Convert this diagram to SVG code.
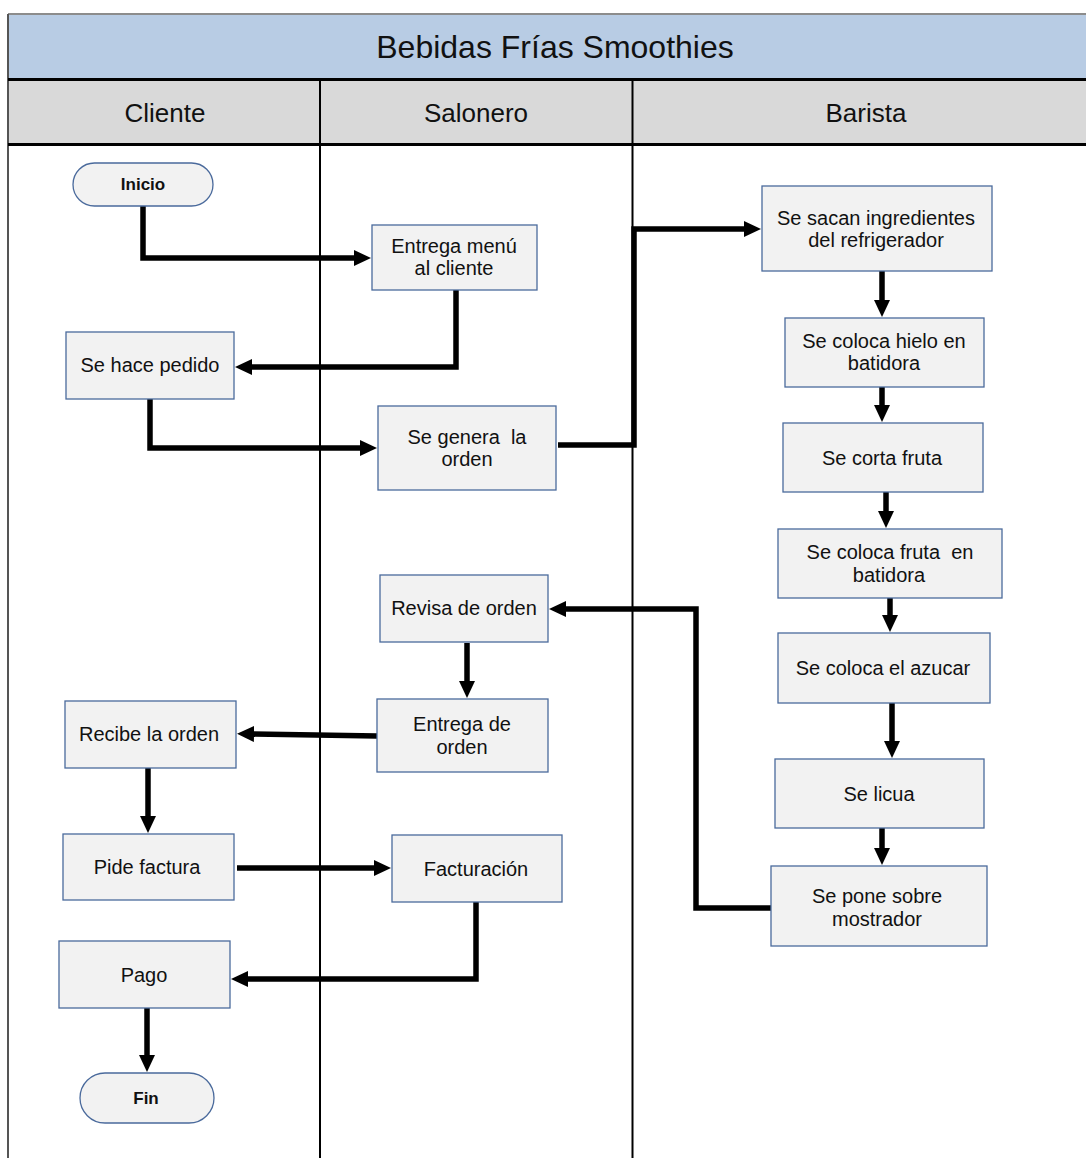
<svg xmlns="http://www.w3.org/2000/svg" width="1086" height="1158" viewBox="0 0 1086 1158">
  <style>
    .box { fill: #F2F2F2; stroke: #4A6A9C; stroke-width: 1.3; }
    .lbl { font-family: "Liberation Sans", Arial, sans-serif; font-size: 20px; fill: #111; text-anchor: middle; dominant-baseline: central; }
    .term { font-family: "Liberation Sans", Arial, sans-serif; font-size: 17px; font-weight: bold; fill: #111; text-anchor: middle; dominant-baseline: central; }
    .hdr { font-family: "Liberation Sans", Arial, sans-serif; font-size: 26px; fill: #111; text-anchor: middle; dominant-baseline: central; }
    .ttl { font-family: "Liberation Sans", Arial, sans-serif; font-size: 32px; fill: #111; text-anchor: middle; dominant-baseline: central; }
    .flow { fill: none; stroke: #000; stroke-width: 5.5; stroke-linejoin: miter; marker-end: url(#arrow); }
    .lane { stroke: #000; stroke-width: 2; }
    .sep { stroke: #000; stroke-width: 3; }
  </style>
  <defs>
    <marker id="arrow" markerUnits="userSpaceOnUse" markerWidth="18" markerHeight="16" refX="2" refY="8" orient="auto">
      <path d="M0,0 L17,8 L0,16 Z" fill="#000"/>
    </marker>
  </defs>

  <rect width="1086" height="1158" fill="#fff"/>

  <!-- Swimlane frame -->
  <g id="frame">
    <rect x="9" y="15" width="1077" height="64" fill="#B8CCE4"/>
    <rect x="9" y="80" width="1077" height="64" fill="#D9D9D9"/>
    <line x1="8" y1="14" x2="1086" y2="14" stroke="#666" stroke-width="1.5"/>
    <line x1="8" y1="14" x2="8" y2="1158" stroke="#555" stroke-width="2"/>
    <line class="sep" x1="8" y1="79.5" x2="1086" y2="79.5"/>
    <line class="sep" x1="8" y1="144.5" x2="1086" y2="144.5"/>
    <line class="lane" x1="320" y1="79" x2="320" y2="1158"/>
    <line class="lane" x1="632.5" y1="79" x2="632.5" y2="1158"/>
    <text class="ttl" x="555" y="47">Bebidas Frías Smoothies</text>
    <text class="hdr" x="165" y="113">Cliente</text>
    <text class="hdr" x="476" y="113">Salonero</text>
    <text class="hdr" x="866" y="113">Barista</text>
  </g>

  <!-- Connectors -->
  <g id="connectors">
    <path class="flow" d="M143,206 V258 H356"/>
    <path class="flow" d="M456,290 V367 H250"/>
    <path class="flow" d="M150,399 V448 H362"/>
    <path class="flow" d="M558,445 H634 V229 H746"/>
    <path class="flow" d="M882,271 V302"/>
    <path class="flow" d="M882,387 V407"/>
    <path class="flow" d="M886,492 V513"/>
    <path class="flow" d="M890,598 V617"/>
    <path class="flow" d="M892,703 V743"/>
    <path class="flow" d="M882,828 V850"/>
    <path class="flow" d="M778,908 H696 V609 H564"/>
    <path class="flow" d="M467,643 V683"/>
    <path class="flow" d="M377,736 L252,734"/>
    <path class="flow" d="M148,768 V818"/>
    <path class="flow" d="M237,868 H376"/>
    <path class="flow" d="M476,902 V979 H246"/>
    <path class="flow" d="M147,1008 V1057"/>
  </g>

  <!-- Cliente lane -->
  <g id="inicio">
    <rect class="box" x="73" y="163" width="140" height="43" rx="21.5"/>
    <text class="term" x="143" y="184.5">Inicio</text>
  </g>
  <g id="hace-pedido">
    <rect class="box" x="66" y="332" width="168" height="67"/>
    <text class="lbl" x="150" y="365">Se hace pedido</text>
  </g>
  <g id="recibe-orden">
    <rect class="box" x="65" y="701" width="171" height="67"/>
    <text class="lbl" x="149" y="734">Recibe la orden</text>
  </g>
  <g id="pide-factura">
    <rect class="box" x="63" y="834" width="171" height="66"/>
    <text class="lbl" x="147" y="867">Pide factura</text>
  </g>
  <g id="pago">
    <rect class="box" x="59" y="941" width="171" height="67"/>
    <text class="lbl" x="144" y="975">Pago</text>
  </g>
  <g id="fin">
    <rect class="box" x="80" y="1073" width="134" height="50" rx="25"/>
    <text class="term" x="146" y="1098">Fin</text>
  </g>

  <!-- Salonero lane -->
  <g id="entrega-menu">
    <rect class="box" x="372" y="225" width="165" height="65"/>
    <text class="lbl" x="454" y="246">Entrega menú</text>
    <text class="lbl" x="454" y="268">al cliente</text>
  </g>
  <g id="genera-orden">
    <rect class="box" x="378" y="406" width="178" height="84"/>
    <text class="lbl" x="467" y="437" xml:space="preserve">Se genera  la</text>
    <text class="lbl" x="467" y="459">orden</text>
  </g>
  <g id="revisa-orden">
    <rect class="box" x="380" y="575" width="168" height="67"/>
    <text class="lbl" x="464" y="608">Revisa de orden</text>
  </g>
  <g id="entrega-orden">
    <rect class="box" x="377" y="699" width="171" height="73"/>
    <text class="lbl" x="462" y="724">Entrega de</text>
    <text class="lbl" x="462" y="747">orden</text>
  </g>
  <g id="facturacion">
    <rect class="box" x="392" y="835" width="170" height="67"/>
    <text class="lbl" x="476" y="869">Facturación</text>
  </g>

  <!-- Barista lane -->
  <g id="sacan-ingredientes">
    <rect class="box" x="762" y="186" width="230" height="85"/>
    <text class="lbl" x="876" y="218">Se sacan ingredientes</text>
    <text class="lbl" x="876" y="240">del refrigerador</text>
  </g>
  <g id="hielo">
    <rect class="box" x="785" y="318" width="199" height="69"/>
    <text class="lbl" x="884" y="341">Se coloca hielo en</text>
    <text class="lbl" x="884" y="363">batidora</text>
  </g>
  <g id="corta-fruta">
    <rect class="box" x="783" y="423" width="200" height="69"/>
    <text class="lbl" x="882" y="458">Se corta fruta</text>
  </g>
  <g id="fruta-batidora">
    <rect class="box" x="778" y="529" width="224" height="69"/>
    <text class="lbl" x="890" y="552" xml:space="preserve">Se coloca fruta  en</text>
    <text class="lbl" x="889" y="575">batidora</text>
  </g>
  <g id="azucar">
    <rect class="box" x="778" y="633" width="212" height="70"/>
    <text class="lbl" x="883" y="668">Se coloca el azucar</text>
  </g>
  <g id="licua">
    <rect class="box" x="775" y="759" width="209" height="69"/>
    <text class="lbl" x="879" y="794">Se licua</text>
  </g>
  <g id="mostrador">
    <rect class="box" x="771" y="866" width="216" height="80"/>
    <text class="lbl" x="877" y="896">Se pone sobre</text>
    <text class="lbl" x="877" y="919">mostrador</text>
  </g>
</svg>
